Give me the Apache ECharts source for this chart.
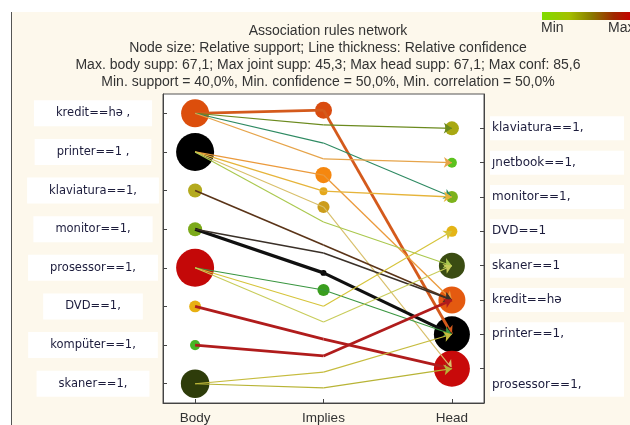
<!DOCTYPE html>
<html><head><meta charset="utf-8">
<script src="https://cdn.jsdelivr.net/npm/echarts/dist/echarts.min.js"></script>
<style>html,body{margin:0;padding:0;background:#fff}#c{width:630px;height:425px}</style>
</head><body><div id="c"></div>
<script>
// ---- data ----
const titleLines = [
  'Association rules network',
  'Node size: Relative support; Line thickness: Relative confidence',
  'Max. body supp: 67,1; Max joint supp: 45,3; Max head supp: 67,1; Max conf: 85,6',
  'Min. support = 40,0%, Min. confidence = 50,0%, Min. correlation = 50,0%'
];
const xLabels = ['Body', 'Implies', 'Head'];
const bodyLabels = ['kredit==hə ,', 'printer==1 ,', 'klaviatura==1,', 'monitor==1,', 'prosessor==1,', 'DVD==1,', 'kompüter==1,', 'skaner==1,'];
const headLabels = ['klaviatura==1,', 'ȷnetbook==1,', 'monitor==1,', 'DVD==1', 'skaner==1', 'kredit==hə', 'printer==1,', 'prosessor==1,'];
const bodySupport = [58, 67.1, 45.5, 45.5, 67.1, 43.5, 42, 58.5];
const headSupport = [45.8, 41.9, 43.9, 42.9, 57.4, 58.4, 67.1, 67.1];
// rules: body index -> head index, implies position (head-axis units), confidence
const ruleBody = [0, 0, 0, 0, 1, 1, 1, 1, 2, 3, 3, 4, 4, 4, 5, 6, 7, 7];
const ruleHead = [6, 0, 2, 1, 5, 2, 7, 4, 5, 6, 5, 6, 3, 4, 7, 5, 6, 7];
const ruleMid  = [-0.53, -0.10, 0.43, 0.89, 1.36, 1.83, 2.29, 2.73, 3.40, 4.21, 3.63, 4.71, 5.18, 5.64, 6.14, 6.63, 7.10, 7.56];
const ruleConf = [80, 52, 52, 52, 55, 55, 52, 52, 60, 85.6, 60, 52, 52, 52, 78, 78, 52, 52];
// implies nodes (joint support)
const impliesRule = [0, 4, 5, 6, 9, 11];
const jointSupport = [45.3, 45, 41.6, 43.3, 40.8, 43.3];

// ---- styles ----
const bodyColors = ['#dc4e0c', '#000000', '#b4aa1e', '#7caa1a', '#c40808', '#e8b012', '#48b424', '#2e3c0a'];
const headColors = ['#a8a812', '#5cc21e', '#7cb21c', '#e4b416', '#3a4c12', '#e45a10', '#000000', '#c80a0a'];
const impliesColors = ['#d94c10', '#f5870f', '#e5a81a', '#cc9c1a', '#000000', '#3a9e1e'];
const ruleColors = ['#d45a1c', '#6b8a1e', '#2e8a62', '#e6a44a', '#eb9a3c', '#e6b43a', '#d8bf6a', '#aac84e',
  '#5a3418', '#101010', '#3a3028', '#3a9640', '#d6c43a', '#c8cc5a', '#b01c1c', '#b01c1c', '#c6bc3e', '#b8b436'];

const xSlots = ['', xLabels[0], '', '', '', xLabels[1], '', '', '', xLabels[2], ''];
const X_BODY = 1, X_IMP = 5, X_HEAD = 9;
const bodyPos = i => (i + 0.5) * 9 / 8 - 1;   // body row in head-axis units
const sz = (s, max) => 8 + (s - 40) / (67.1 - 40) * (max - 8);
const jz = s => 4 + (s - 40) / (45.3 - 40) * 13;
const lw = c => 1 + (c - 50) / (85.6 - 50) * 2.2;

const seg1 = ruleBody.map((b, r) => ({
  coords: [[X_BODY, bodyPos(b)], [X_IMP, ruleMid[r]]],
  lineStyle: { color: ruleColors[r], width: lw(ruleConf[r]), opacity: 1 }
}));
const seg2 = ruleHead.map((h, r) => ({
  coords: [[X_IMP, ruleMid[r]], [X_HEAD, h]],
  lineStyle: { color: ruleColors[r], width: lw(ruleConf[r]), opacity: 1 }
}));

const font = 'Liberation Sans, Arial, sans-serif';
const labFont = 'DejaVu Sans, sans-serif';
const chart = echarts.init(document.getElementById('c'), null, { renderer: 'canvas' });
chart.setOption({
  animation: false,
  backgroundColor: '#fdf8ec',
  title: {
    text: titleLines.join('\n'), left: 323, top: 18, textAlign: 'center',
    textStyle: { fontSize: 14, fontWeight: 'normal', color: '#333', fontFamily: font, lineHeight: 17 }
  },
  graphic: [
    { type: 'rect', z: -10, shape: { x: 0, y: 0, width: 630, height: 12 }, style: { fill: '#fff' } },
    { type: 'rect', z: -10, shape: { x: 0, y: 0, width: 11, height: 425 }, style: { fill: '#fff' } },
    { type: 'line', shape: { x1: 11.5, y1: 12, x2: 11.5, y2: 425 }, style: { stroke: '#555', lineWidth: 1 } },
    { type: 'rect', shape: { x: 542, y: 12, width: 90, height: 8 }, style: {
      fill: new echarts.graphic.LinearGradient(0, 0, 1, 0, [
        { offset: 0, color: '#80dc00' }, { offset: 0.3, color: '#a4c000' },
        { offset: 0.55, color: '#8a7a00' }, { offset: 0.8, color: '#a02800' }, { offset: 1, color: '#c80000' }]) } },
    { type: 'text', x: 541, y: 21, style: { text: 'Min', fontSize: 14, fontFamily: font, fill: '#333' } },
    { type: 'text', x: 608, y: 21, style: { text: 'Max', fontSize: 14, fontFamily: font, fill: '#333' } }
  ],
  grid: { left: 163, top: 94, width: 321, height: 309, show: true, backgroundColor: '#fff',
    borderColor: '#555', borderWidth: 1, containLabel: false, outerBoundsMode: 'none' },
  xAxis: {
    type: 'category', data: xSlots, boundaryGap: false,
    axisLine: { show: true, onZero: false, lineStyle: { color: '#444' } },
    axisTick: { show: true, inside: true, length: 4, interval: i => xSlots[i] !== '', lineStyle: { color: '#444' } },
    axisLabel: { interval: i => xSlots[i] !== '', color: '#333', fontSize: 13.5, fontFamily: font, margin: 8 },
    splitLine: { show: false }
  },
  yAxis: [
    {
      type: 'category', data: bodyLabels, inverse: true, position: 'left', boundaryGap: true,
      axisLine: { show: true, onZero: false, lineStyle: { color: '#444' } },
      axisTick: { show: true, alignWithLabel: true, inside: true, length: 4, lineStyle: { color: '#444' } },
      axisLabel: { margin: 70, align: 'center', color: '#1c1c3c', fontSize: 11.5, fontFamily: labFont,
        backgroundColor: '#fff', padding: [7, 22, 7, 22] },
      splitLine: { show: false }
    },
    {
      type: 'value', min: -1, max: 8, interval: 1, inverse: true, position: 'right',
      axisLine: { show: true, onZero: false, lineStyle: { color: '#444' } },
      axisTick: { show: true, inside: true, length: 4, lineStyle: { color: '#444' } },
      axisLabel: {
        showMinLabel: false, showMaxLabel: false, margin: 6, align: 'left',
        formatter: v => {
          const t = headLabels[v];
          if (t === undefined) return '';
          return v === headLabels.length - 1 ? '{b|' + t + '}' : '{a|' + t + '}';
        },
        rich: {
          a: { color: '#1c1c3c', fontSize: 12, fontFamily: labFont, backgroundColor: '#fff', width: 126, padding: [6, 6, 6, 2] },
          b: { color: '#1c1c3c', fontSize: 12, fontFamily: labFont, backgroundColor: '#fff', width: 126, padding: [38, 6, 6, 2] }
        }
      },
      splitLine: { show: false }
    }
  ],
  series: [
    { type: 'scatter', yAxisIndex: 1, z: 2, symbol: 'circle',
      data: bodyLabels.map((_, i) => ({ value: [X_BODY, bodyPos(i)], symbolSize: sz(bodySupport[i], 38), itemStyle: { color: bodyColors[i], opacity: 1 } })) },
    { type: 'scatter', yAxisIndex: 1, z: 2, symbol: 'circle',
      data: headLabels.map((_, j) => ({ value: [X_HEAD, j], symbolSize: sz(headSupport[j], 36), itemStyle: { color: headColors[j], opacity: 1 } })) },
    { type: 'scatter', yAxisIndex: 1, z: 2, symbol: 'circle',
      data: impliesRule.map((r, k) => ({ value: [X_IMP, ruleMid[r]], symbolSize: jz(jointSupport[k]), itemStyle: { color: impliesColors[k], opacity: 1 } })) },
    { type: 'lines', coordinateSystem: 'cartesian2d', yAxisIndex: 1, z: 3, symbol: ['none', 'none'], lineStyle: { opacity: 1 }, data: seg1 },
    { type: 'lines', coordinateSystem: 'cartesian2d', yAxisIndex: 1, z: 3, symbol: ['none', 'arrow'], symbolSize: 8, lineStyle: { opacity: 1 }, data: seg2 }
  ]
});
</script></body></html>
